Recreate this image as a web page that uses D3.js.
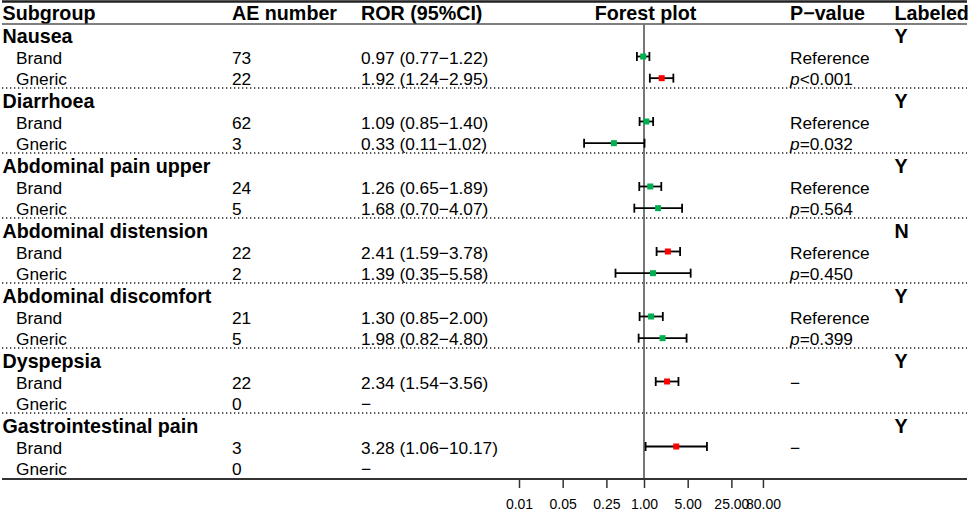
<!DOCTYPE html>
<html>
<head>
<meta charset="utf-8">
<script src="https://cdn.jsdelivr.net/npm/d3@7"></script>
<style>
  body { margin: 0; background: #fff; }
  svg { display: block; font-family: "Liberation Sans", Arial, sans-serif; }
</style>
</head>
<body>
<div id="chart"></div>
<script>
// groups of adverse events, brand vs generic
var groups = ['Nausea', 'Diarrhoea', 'Abdominal pain upper', 'Abdominal distension',
              'Abdominal discomfort', 'Dyspepsia', 'Gastrointestinal pain']
var labeled = ['Y', 'Y', 'Y', 'N', 'Y', 'Y', 'Y']

var brandN = [73, 62, 24, 22, 21, 22, 3]
var brandRor = [0.97, 1.09, 1.26, 2.41, 1.30, 2.34, 3.28]
var brandLow = [0.77, 0.85, 0.84, 1.59, 0.85, 1.54, 1.06]
var brandHigh = [1.22, 1.40, 1.89, 3.78, 2.00, 3.56, 10.17]
var brandCi = ['0.97 (0.77\u22121.22)', '1.09 (0.85\u22121.40)', '1.26 (0.65\u22121.89)',
               '2.41 (1.59\u22123.78)', '1.30 (0.85\u22122.00)', '2.34 (1.54\u22123.56)',
               '3.28 (1.06\u221210.17)']

var genericN = [22, 3, 5, 2, 5, 0, 0]
var genericRor = [1.92, 0.33, 1.68, 1.39, 1.98, null, null]
var genericLow = [1.24, 0.11, 0.70, 0.35, 0.82, null, null]
var genericHigh = [2.95, 1.02, 4.07, 5.58, 4.80, null, null]
var genericCi = ['1.92 (1.24\u22122.95)', '0.33 (0.11\u22121.02)', '1.68 (0.70\u22124.07)',
                 '1.39 (0.35\u22125.58)', '1.98 (0.82\u22124.80)', null, null]
var pValues = ['<0.001', '=0.032', '=0.564', '=0.450', '=0.399', null, null]

var tickValues = [0.01, 0.05, 0.25, 1, 5, 25, 80]

var width = 969
var height = 514
var dash = '\u2212'
var fontNormal = 17.3
var fontBold = 19.7

var cols = { sub: 2.5, ae: 232, ror: 361, forest: 645.5, p: 790, lab: 894.5 }

var rows = []
groups.forEach(function(g, i) {
  rows.push({ type: 'group', label: g, labeled: labeled[i] })
  rows.push({ type: 'sub', label: 'Brand', n: brandN[i], ror: brandRor[i], low: brandLow[i],
              high: brandHigh[i], ci: brandCi[i], p: pValues[i] ? 'Reference' : dash })
  rows.push({ type: 'sub', label: 'Gneric', n: genericN[i], ror: genericRor[i], low: genericLow[i],
              high: genericHigh[i], ci: genericCi[i] || dash, p: pValues[i], italicP: !!pValues[i] })
})
rows[rows.length - 1].p = null

var x = d3.scaleLog().domain([0.01, 80]).range([519, 519 + 62.5 * Math.log10(8000)])
var y = d3.scaleBand().domain(d3.range(rows.length)).range([24, 479])
var cy = function(i) { return y(i) + y.bandwidth() / 2 }

var colorPoint = function(d) { return d.low > 1 ? '#ff0000' : '#00b050' }

var svg = d3.select('#chart').append('svg').attr('width', width).attr('height', height)

// header
var header = svg.append('g').style('font-weight', 'bold').style('font-size', fontBold + 'px')
header.append('text').attr('x', cols.sub).attr('y', 19.5).text('Subgroup')
header.append('text').attr('x', cols.ae).attr('y', 19.5).text('AE number')
header.append('text').attr('x', cols.ror).attr('y', 19.5).text('ROR (95%CI)')
header.append('text').attr('x', cols.forest).attr('y', 19.5).attr('text-anchor', 'middle').text('Forest plot')
header.append('text').attr('x', cols.p).attr('y', 19.5).text('P' + dash + 'value')
header.append('text').attr('x', cols.lab).attr('y', 19.5).text('Labeled')

// table lines
svg.append('line').attr('x1', 2).attr('x2', 967).attr('y1', 1.5).attr('y2', 1.5)
  .style('stroke', '#222').style('stroke-width', 2.5)
svg.append('line').attr('x1', 2).attr('x2', 967).attr('y1', 24).attr('y2', 24)
  .style('stroke', '#555').style('stroke-width', 1.5)

svg.append('g').selectAll('line')
  .data(d3.range(1, groups.length))
  .enter()
  .append('line')
  .attr('x1', 2).attr('x2', 967)
  .attr('y1', function(g) { return y(g * 3) - 1 })
  .attr('y2', function(g) { return y(g * 3) - 1 })
  .style('stroke', '#222').style('stroke-width', 1.3).style('stroke-dasharray', '1.3,2.7')

// text cells
var cells = svg.append('g').selectAll('g.row')
  .data(rows)
  .enter()
  .append('g')
  .attr('class', 'row')

cells.filter(function(d) { return d.type == 'group' }).each(function(d) {
  var i = rows.indexOf(d)
  var g = d3.select(this).style('font-weight', 'bold').style('font-size', fontBold + 'px')
  g.append('text').attr('x', cols.sub).attr('y', cy(i) + 8).text(d.label)
  g.append('text').attr('x', cols.lab).attr('y', cy(i) + 8).text(d.labeled)
})

cells.filter(function(d) { return d.type == 'sub' }).each(function(d) {
  var i = rows.indexOf(d)
  var base = cy(i) + 7
  var g = d3.select(this).style('font-size', fontNormal + 'px')
  g.append('text').attr('x', cols.sub + 13.5).attr('y', base).text(d.label)
  g.append('text').attr('x', cols.ae).attr('y', base).text(d.n)
  g.append('text').attr('x', cols.ror).attr('y', base).text(d.ci)
  if (d.p) {
    var t = g.append('text').attr('x', cols.p).attr('y', base)
    if (d.italicP) {
      t.append('tspan').style('font-style', 'italic').text('p')
      t.append('tspan').text(d.p)
    } else {
      t.text(d.p)
    }
  }
})

// forest plot
svg.append('line').attr('x1', x(1)).attr('x2', x(1)).attr('y1', 24).attr('y2', 479)
  .style('stroke', '#777').style('stroke-width', 2)

var est = svg.append('g').selectAll('g.est')
  .data(rows.filter(function(d) { return d.type == 'sub' && d.ror != null }))
  .enter()
  .append('g')
  .attr('class', 'est')
  .attr('transform', function(d) { return 'translate(0,' + cy(rows.indexOf(d)) + ')' })

est.append('line')
  .attr('x1', function(d) { return x(d.low) }).attr('x2', function(d) { return x(d.high) })
  .style('stroke', '#000').style('stroke-width', 1.8)
est.append('line')
  .attr('x1', function(d) { return x(d.low) }).attr('x2', function(d) { return x(d.low) })
  .attr('y1', -4.5).attr('y2', 4.5)
  .style('stroke', '#000').style('stroke-width', 1.8)
est.append('line')
  .attr('x1', function(d) { return x(d.high) }).attr('x2', function(d) { return x(d.high) })
  .attr('y1', -4.5).attr('y2', 4.5)
  .style('stroke', '#000').style('stroke-width', 1.8)
est.append('rect')
  .attr('x', function(d) { return x(d.ror) - 3 }).attr('y', -3)
  .attr('width', 6).attr('height', 6)
  .style('fill', colorPoint)

// axis
svg.append('line').attr('x1', 2).attr('x2', 967).attr('y1', 479).attr('y2', 479)
  .style('stroke', '#333').style('stroke-width', 2)

var axis = svg.append('g')
  .attr('transform', 'translate(0,479)')
  .call(d3.axisBottom(x).tickValues(tickValues).tickFormat(d3.format('.2f')).tickSize(9).tickPadding(11))
axis.select('.domain').remove()
axis.selectAll('.tick line').style('stroke', '#333').style('stroke-width', 1.5)
axis.selectAll('.tick text').style('font-size', '14px').style('font-family', '"Liberation Sans", Arial, sans-serif')
  .style('fill', '#000')
</script>
</body>
</html>
